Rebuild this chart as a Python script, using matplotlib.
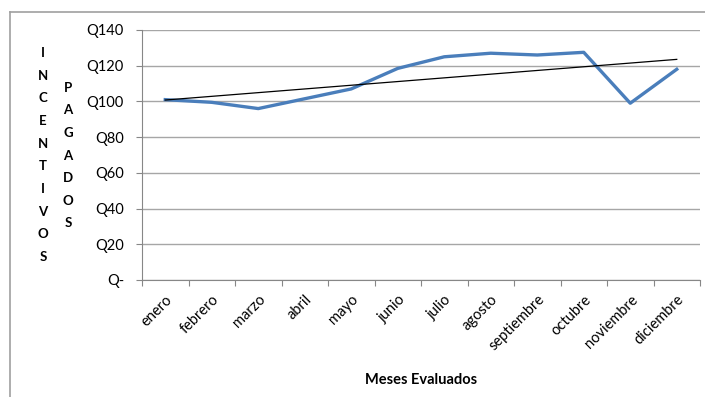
import numpy as np
import matplotlib.pyplot as plt
from matplotlib.lines import Line2D

# Incentivos pagados por mes (quetzales)
meses = ['enero', 'febrero', 'marzo', 'abril', 'mayo', 'junio', 'julio',
         'agosto', 'septiembre', 'octubre', 'noviembre', 'diciembre']
incentivos = [101, 99.5, 96, 101.5, 107, 118.5, 125, 127, 126, 127.5, 99, 118]
y_ticks = [0, 20, 40, 60, 80, 100, 120, 140]
y_labels = ['Q-', 'Q20', 'Q40', 'Q60', 'Q80', 'Q100', 'Q120', 'Q140']

plt.rcParams['font.family'] = ['Lato', 'DejaVu Sans']

fig = plt.figure(figsize=(7.05, 3.97), dpi=100)
ax = fig.add_axes([142 / 705, 1 - 280 / 397, 558 / 705, 250 / 397])

x = np.arange(len(meses))
ax.plot(x, incentivos, color='#4A7EBB', lw=2.4, solid_joinstyle='round', zorder=3)

# linea de tendencia lineal
m, b = np.polyfit(x, incentivos, 1)
ax.plot(x, m * x + b, color='black', lw=0.9, zorder=4)

ax.set_xlim(-0.5, len(meses) - 0.5)
ax.set_ylim(0, 140)
ax.set_yticks(y_ticks)
ax.set_yticklabels(y_labels)
ax.yaxis.grid(True, color='#A6A6A6', lw=1)
ax.set_axisbelow(True)

# marcas entre categorias, etiquetas en el centro
ax.set_xticks(np.arange(len(meses) + 1) - 0.5)
ax.set_xticklabels([])
ax.set_xticks(x, minor=True)
ax.set_xticklabels(meses, minor=True, rotation=45, ha='right',
                   rotation_mode='anchor', fontsize=10.5)
ax.tick_params(axis='x', which='minor', length=0, pad=9)
ax.tick_params(axis='x', which='major', length=4, color='#878787')
ax.tick_params(axis='y', length=4, color='#878787', labelsize=10.5, pad=9)

for side in ('top', 'right'):
    ax.spines[side].set_visible(False)
for side in ('left', 'bottom'):
    ax.spines[side].set_color('#878787')

ax.set_xlabel('Meses Evaluados', fontsize=10.5, fontweight='bold', labelpad=14)

fig.text(43 / 705, 1 - 155 / 397, '\n'.join('INCENTIVOS'), ha='center', va='center',
         fontsize=9.5, fontweight='bold', linespacing=2.06)
fig.text(68 / 705, 1 - 155.5 / 397, '\n'.join('PAGADOS'), ha='center', va='center',
         fontsize=9.5, fontweight='bold', linespacing=2.06)

# marco del area del grafico
fig.add_artist(Line2D([10 / 705, 10 / 705], [0, 1 - 12 / 397], color='#A0A0A0', lw=1.2))
fig.add_artist(Line2D([10 / 705, 1], [1 - 12 / 397, 1 - 12 / 397], color='#A0A0A0', lw=1.2))

fig.savefig('out.png', dpi=100)
